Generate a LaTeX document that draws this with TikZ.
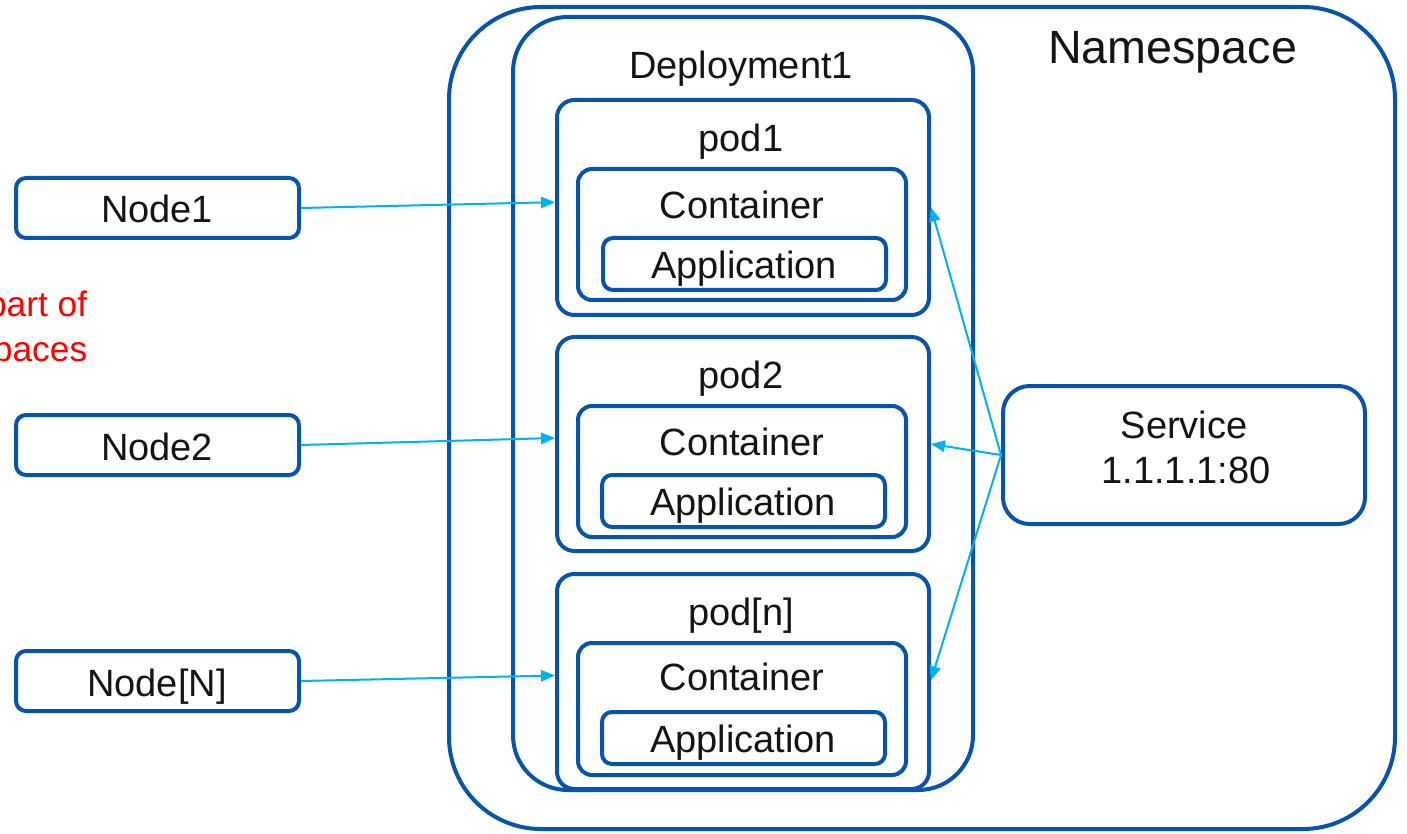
\documentclass[tikz,border=0pt]{standalone}
\usepackage{fontspec}
\setmainfont{Liberation Sans}
\usetikzlibrary{fit,arrows.meta}
\definecolor{boxblue}{RGB}{6,84,172}
\definecolor{linkcyan}{RGB}{0,178,238}
\definecolor{ink}{RGB}{20,20,20}
\begin{document}
\begin{tikzpicture}[x=0.75pt,y=-0.75pt,
  frame/.style={draw=boxblue,line width=3pt,fill=none,inner sep=0pt},
  nsbox/.style={frame,rounded corners=69pt},
  depbox/.style={frame,rounded corners=41pt},
  podbox/.style={frame,rounded corners=13pt},
  contbox/.style={frame,rounded corners=10.5pt},
  appbox/.style={frame,rounded corners=7.5pt},
  hostbox/.style={frame,rounded corners=7.5pt},
  svcbox/.style={frame,rounded corners=20pt},
  lbl/.style={anchor=base,inner sep=0pt,text=ink,font=\fontsize{28.5pt}{34pt}\selectfont},
  biglbl/.style={lbl,font=\fontsize{35pt}{42pt}\selectfont},
  note/.style={anchor=base east,inner sep=0pt,text=red,font=\fontsize{26.5pt}{32pt}\selectfont},
  link/.style={draw=linkcyan,line width=1.5pt,-{Triangle[length=10.5pt,width=8.5pt]}}]
\useasboundingbox (0,0) rectangle (1407,834);

% namespace and deployment frames
\node[nsbox,fit={(449,7)(1395,829)}] (ns) {};
\node[depbox,fit={(513,17)(973,790)}] (dep) {};
\node[biglbl] (nslbl) at (1172.5,64) {Namespace};
\node[lbl] (deplbl) at (741,79) {Deployment1};

% pods with their containers and applications
\node[podbox,fit={(557,100)(929,315)}] (pod1) {};
\node[podbox,fit={(557,337)(929,551)}] (pod2) {};
\node[podbox,fit={(557,574)(929,789)}] (podn) {};
\node[contbox,fit={(578,169)(906,300)}] (cont1) {};
\node[contbox,fit={(578,406)(906,537)}] (cont2) {};
\node[contbox,fit={(578,643)(906,775)}] (contn) {};
\node[appbox,fit={(603,238)(886,290)}] (app1) {};
\node[appbox,fit={(602,475)(885,527)}] (app2) {};
\node[appbox,fit={(602,712)(885,764)}] (appn) {};

\node[lbl] (pod1lbl) at (741,151.5) {pod1};
\node[lbl] (pod2lbl) at (741,388.5) {pod2};
\node[lbl] (podnlbl) at (741,625) {pod[n]};
\node[lbl] (cont1lbl) at (742,218.5) {Container};
\node[lbl] (cont2lbl) at (742,455) {Container};
\node[lbl] (contnlbl) at (742,690.5) {Container};
\node[lbl] (app1lbl) at (744,278.5) {Application};
\node[lbl] (app2lbl) at (743,515) {Application};
\node[lbl] (appnlbl) at (743,752) {Application};

% worker nodes
\node[hostbox,fit={(16,178)(299,238)}] (node1) {};
\node[hostbox,fit={(16,415)(299,475)}] (node2) {};
\node[hostbox,fit={(16,651)(299,711)}] (nodeN) {};
\node[lbl] (node1lbl) at (157,222.5) {Node1};
\node[lbl] (node2lbl) at (157,460) {Node2};
\node[lbl] (nodeNlbl) at (157,696.5) {Node[N]};

% service
\node[svcbox,fit={(1003,386)(1365,524)}] (svc) {};
\node[lbl] (svclbl) at (1184,438.5) {Service};
\node[lbl] (svcip) at (1186,483.5) {1.1.1.1:80};

% side note
\node[note] (noteA) at (87.5,317) {part of};
\node[note] (noteB) at (87.5,362) {paces};

% connectors
\draw[link] (node1.east) -- ([yshift=4pt]pod1.west);
\draw[link] (node2.east) -- ([yshift=4.5pt]pod2.west);
\draw[link] (nodeN.east) -- ([yshift=4.5pt]podn.west);
\draw[link] (svc.west) -- (pod1.east);
\draw[link] (svc.west) -- (pod2.east);
\draw[link] (svc.west) -- ([yshift=1pt]podn.east);
\end{tikzpicture}
\end{document}
